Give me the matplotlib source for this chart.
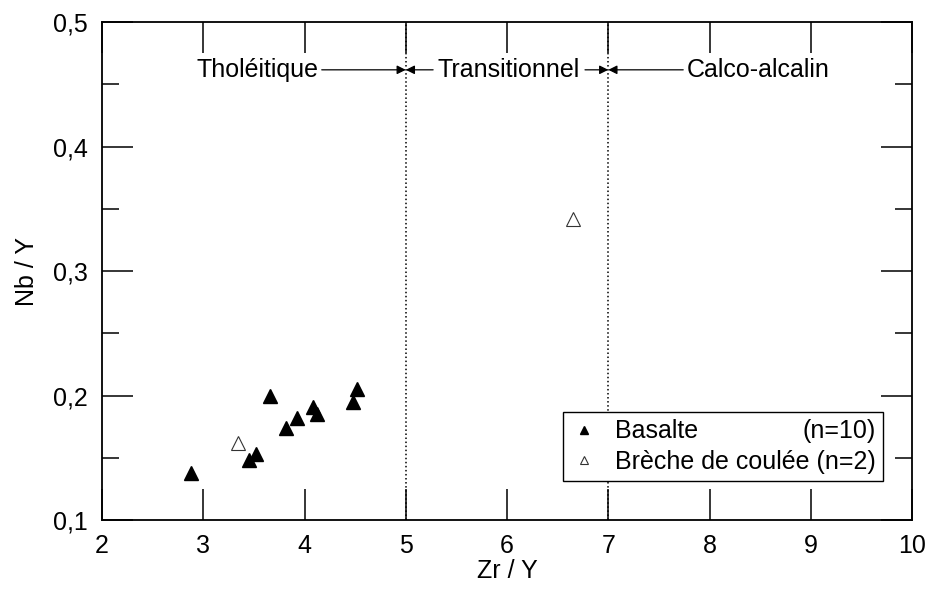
import matplotlib
matplotlib.use('Agg')
import matplotlib.pyplot as plt
from matplotlib.ticker import MultipleLocator

plt.rcParams['font.family'] = ['Liberation Sans', 'DejaVu Sans']

# Basalte (n=10)
basalte_zr_y = [2.88, 3.45, 3.52, 3.66, 3.82, 3.93, 4.08, 4.12, 4.48, 4.52]
basalte_nb_y = [0.138, 0.148, 0.153, 0.200, 0.174, 0.182, 0.191, 0.185, 0.195, 0.205]
# Breche de coulee (n=2)
breche_zr_y = [3.34, 6.65]
breche_nb_y = [0.162, 0.342]

x_ticks = [2, 3, 4, 5, 6, 7, 8, 9, 10]
y_ticks = [0.1, 0.2, 0.3, 0.4, 0.5]
y_ticklabels = ['0,1', '0,2', '0,3', '0,4', '0,5']
limits = [5, 7]
fs = 18

fig = plt.figure(figsize=(9.3, 5.95), dpi=100)
ax = fig.add_axes([0.1097, 0.126, 0.871, 0.837])

ax.plot(basalte_zr_y, basalte_nb_y, ls='none', marker='^', ms=9.5,
        mfc='black', mec='black', label='Basalte')
ax.plot(breche_zr_y, breche_nb_y, ls='none', marker='^', ms=9.5,
        mfc='white', mec='#333333', mew=0.8, label='Brèche de coulée (n=2)')

for xv in limits:
    ax.axvline(xv, color='black', ls=':', lw=1.1)

ya = 0.4616
ax.text(4.14, ya, 'Tholéitique', ha='right', va='center', fontsize=fs)
ax.text(6.02, ya, 'Transitionnel', ha='center', va='center', fontsize=fs)
ax.text(7.77, ya, 'Calco-alcalin', ha='left', va='center', fontsize=fs)
arrow = dict(arrowstyle='-|>', lw=0.9, color='black', mutation_scale=13,
             shrinkA=0, shrinkB=0)
for x0, x1 in [(4.17, 5), (5.27, 5), (6.77, 7), (7.74, 7)]:
    ax.annotate('', xy=(x1, ya), xytext=(x0, ya), arrowprops=arrow)

ax.set_xlim(2, 10)
ax.set_ylim(0.1, 0.5)
ax.set_xticks(x_ticks)
ax.set_yticks(y_ticks)
ax.set_yticklabels(y_ticklabels)
ax.yaxis.set_minor_locator(MultipleLocator(0.05))
ax.tick_params(which='both', direction='in', top=True, right=True,
               labelsize=fs, width=1.1)
ax.tick_params(which='major', length=22, pad=10)
ax.tick_params(which='minor', length=12)
for sp in ax.spines.values():
    sp.set_linewidth(1.3)

ax.set_xlabel('Zr / Y', fontsize=fs, labelpad=1)
ax.set_ylabel('Nb / Y', fontsize=fs, labelpad=10)

leg = ax.legend(loc='lower right', bbox_to_anchor=(0.9645, 0.078),
                fontsize=fs, markerscale=0.6, fancybox=False,
                edgecolor='black', framealpha=1, handlelength=1.1,
                handletextpad=0.7, borderpad=0.3, labelspacing=0.25,
                borderaxespad=0)
leg.get_frame().set_linewidth(1.0)

# "(n=10)" aligned with the right end of the second legend entry
fig.canvas.draw()
t1, t2 = leg.get_texts()
e1 = t1.get_window_extent()
e2 = t2.get_window_extent()
inv = fig.transFigure.inverted()
xr, _ = inv.transform((e2.x1, 0))
_, yc = inv.transform((0, (e1.y0 + e1.y1) / 2))
fig.text(xr, yc, '(n=10)', ha='right', va='center', fontsize=fs)

fig.savefig('out.png', dpi=100)
